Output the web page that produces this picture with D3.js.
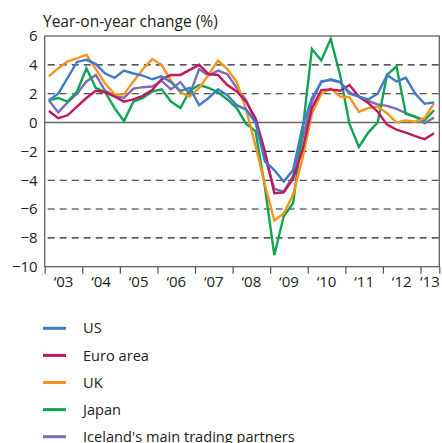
<!DOCTYPE html>
<html>
<head>
<meta charset="utf-8">
<script src="https://cdn.jsdelivr.net/npm/d3@7"></script>
<style>
  body { margin: 0; background: #fff; }
  svg { display: block; font-family: 'Open Sans', sans-serif; }
</style>
</head>
<body>
<div class="graph"></div>
<script>
// quarters 2003Q1 .. 2013Q2
var quarters = [
  '2003Q1','2003Q2','2003Q3','2003Q4','2004Q1','2004Q2','2004Q3','2004Q4',
  '2005Q1','2005Q2','2005Q3','2005Q4','2006Q1','2006Q2','2006Q3','2006Q4',
  '2007Q1','2007Q2','2007Q3','2007Q4','2008Q1','2008Q2','2008Q3','2008Q4',
  '2009Q1','2009Q2','2009Q3','2009Q4','2010Q1','2010Q2','2010Q3','2010Q4',
  '2011Q1','2011Q2','2011Q3','2011Q4','2012Q1','2012Q2','2012Q3','2012Q4',
  '2013Q1','2013Q2'
];

var us = [1.55, 2.0, 3.1, 4.2, 4.35, 4.05, 3.4, 3.1, 3.6, 3.4, 3.25, 3.0, 3.2, 2.8, 2.2, 2.4,
  1.2, 1.7, 2.3, 1.9, 1.2, 0.9, 0.0, -2.7, -3.3, -4.1, -3.3, -0.3, 1.7, 2.8, 3.0, 2.8,
  2.0, 1.8, 1.6, 2.0, 3.3, 2.85, 3.1, 2.0, 1.3, 1.4];
var euro = [0.8, 0.3, 0.5, 1.1, 1.7, 2.2, 2.1, 1.8, 1.45, 1.6, 1.85, 2.25, 3.0, 3.3, 3.3, 3.65,
  4.0, 3.35, 3.3, 2.6, 2.15, 1.45, 0.3, -2.0, -4.9, -4.85, -3.9, -1.9, 1.0, 2.25, 2.3, 2.2,
  2.6, 1.8, 1.35, 0.75, -0.15, -0.5, -0.7, -0.95, -1.15, -0.75];
var uk = [3.2, 3.75, 4.25, 4.45, 4.7, 3.7, 2.7, 1.95, 1.95, 2.85, 3.7, 4.4, 4.0, 2.9, 2.1, 1.8,
  2.4, 3.3, 4.3, 3.7, 2.8, 0.9, -1.6, -4.3, -6.8, -6.3, -5.0, -2.5, 0.6, 2.0, 2.35, 1.8,
  1.75, 0.75, 1.0, 1.1, 0.65, 0.0, 0.15, 0.05, 0.3, 1.35];
var japan = [1.55, 1.7, 1.45, 2.15, 3.75, 2.4, 2.1, 1.0, 0.1, 1.45, 1.7, 2.15, 2.3, 1.45, 1.0, 2.2,
  2.6, 2.4, 2.1, 1.6, 1.0, -0.1, -0.6, -4.5, -9.2, -6.5, -5.6, -0.6, 5.1, 4.3, 5.8, 3.3,
  -0.1, -1.7, -0.7, 0.0, 3.3, 3.9, 0.6, 0.4, 0.15, 0.85];
var partners = [1.55, 0.7, 1.4, 2.0, 2.85, 3.3, 2.2, 1.85, 1.7, 2.35, 2.45, 2.5, 2.9, 2.3, 2.8, 1.95,
  3.7, 3.25, 3.6, 3.35, 2.4, 1.55, 0.05, -2.4, -4.6, -4.8, -3.7, -1.1, 1.4, 2.85, 2.95, 2.8,
  2.1, 1.8, 1.5, 1.25, 1.15, 0.95, 0.65, 0.4, -0.05, 0.35];

var yTicks = [-10, -8, -6, -4, -2, 0, 2, 4, 6];
var years = [2003, 2004, 2005, 2006, 2007, 2008, 2009, 2010, 2011, 2012, 2013];

var series = [
  { name: 'partners', label: "Iceland's main trading partners", values: partners, color: '#7a6db4' },
  { name: 'japan', label: 'Japan', values: japan, color: '#10a452' },
  { name: 'uk', label: 'UK', values: uk, color: '#f7941e' },
  { name: 'euro', label: 'Euro area', values: euro, color: '#c0175f' },
  { name: 'us', label: 'US', values: us, color: '#3d7cc9' }
];
var legendOrder = ['us', 'euro', 'uk', 'japan', 'partners'];

var W = 442, H = 443;
var mLeft = 44.7, mRight = 439.3, mTop = 36, mBottom = 266.7;

var svg = d3.select('.graph').append('svg')
  .attr('width', W)
  .attr('height', H);

var x = d3.scaleLinear()
  .domain([2003, 2013.5])
  .range([mLeft, mRight]);

var y = d3.scaleLinear()
  .domain([-10, 6])
  .range([mBottom, mTop]);

function qx(q) {
  var yr = +q.slice(0, 4), n = +q.slice(5);
  return x(yr + (n - 1) / 4 + 0.11);
}

// dashed grid
svg.append('g')
  .selectAll('line')
  .data(yTicks.filter(function (d) { return d !== 0 && d !== 6 && d !== -10; }))
  .join('line')
  .attr('x1', mLeft + 3)
  .attr('x2', mRight)
  .attr('y1', function (d) { return y(d); })
  .attr('y2', function (d) { return y(d); })
  .attr('stroke', '#222')
  .attr('stroke-width', 1.1)
  .attr('stroke-dasharray', '7,5');

// zero line
svg.append('line')
  .attr('x1', mLeft).attr('x2', mRight)
  .attr('y1', y(0)).attr('y2', y(0))
  .attr('stroke', '#666')
  .attr('stroke-width', 1.3);

// lines
var line = d3.line()
  .x(function (d, i) { return qx(quarters[i]); })
  .y(function (d) { return y(d); });

svg.append('g')
  .selectAll('path')
  .data(series)
  .join('path')
  .attr('d', function (s) { return line(s.values); })
  .attr('fill', 'none')
  .attr('stroke', function (s) { return s.color; })
  .attr('stroke-width', 2.4);

// frame
svg.append('rect')
  .attr('x', mLeft).attr('y', mTop)
  .attr('width', mRight - mLeft).attr('height', mBottom - mTop)
  .attr('fill', 'none')
  .attr('stroke', '#555')
  .attr('stroke-width', 1.2);

// y axis labels
var yAxis = d3.axisLeft(y).tickValues(yTicks).tickSize(0).tickPadding(7);
var ya = svg.append('g')
  .attr('transform', 'translate(' + mLeft + ',0)')
  .call(yAxis);
ya.select('.domain').remove();
ya.selectAll('text')
  .style('font-size', '15px')
  .style('font-family', "'Open Sans', sans-serif")
  .attr('fill', '#222');

// x axis ticks and labels
var xAxis = d3.axisBottom(x).tickValues(years.concat([2013.5])).tickSize(7).tickFormat('');
var xa = svg.append('g')
  .attr('transform', 'translate(0,' + mBottom + ')')
  .call(xAxis);
xa.select('.domain').remove();
xa.selectAll('line').attr('stroke', '#555').attr('stroke-width', 1.2);

svg.append('g')
  .selectAll('text')
  .data(years)
  .join('text')
  .attr('x', function (d) { return x(Math.min(d + 0.5, (d + 2013.5) / 2)); })
  .attr('y', mBottom + 20)
  .attr('text-anchor', 'middle')
  .style('font-size', '15px')
  .attr('fill', '#222')
  .text(function (d) { return '\u2018' + String(d).slice(2); });

// title
svg.append('text')
  .attr('x', 43)
  .attr('y', 27)
  .style('font-size', '15.5px')
  .attr('fill', '#222')
  .text('Year-on-year change (%)');

// legend
var lg = svg.append('g')
  .selectAll('g')
  .data(legendOrder.map(function (n) { return series.find(function (s) { return s.name === n; }); }))
  .join('g')
  .attr('transform', function (d, i) { return 'translate(0,' + (328.3 + i * 27.1) + ')'; });

lg.append('line')
  .attr('x1', 43).attr('x2', 66)
  .attr('stroke', function (d) { return d.color; })
  .attr('stroke-width', 3);

lg.append('text')
  .attr('x', 83)
  .attr('dy', '0.35em')
  .style('font-size', '14.6px')
  .attr('fill', '#222')
  .text(function (d) { return d.label; });
</script>
</body>
</html>
